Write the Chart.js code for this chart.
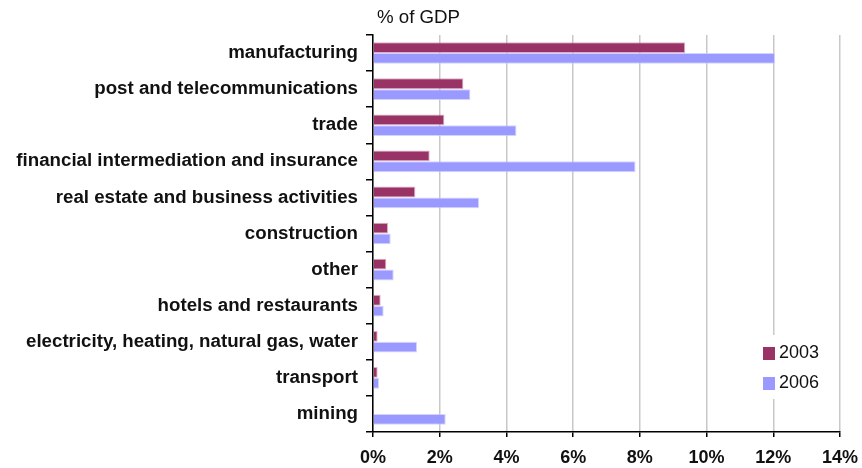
<!DOCTYPE html>
<html>
<head>
<meta charset="utf-8">
<script src="https://cdn.jsdelivr.net/npm/chart.js@4/dist/chart.umd.min.js"></script>
<style>
  html, body { margin: 0; padding: 0; background: #fff; }
  #wrap { width: 862px; height: 468px; position: relative; }
</style>
</head>
<body>
<div id="wrap"><canvas id="chart"></canvas></div>
<script>
const sectors = [
    'manufacturing',
    'post and telecommunications',
    'trade',
    'financial intermediation and insurance',
    'real estate and business activities',
    'construction',
    'other',
    'hotels and restaurants',
    'electricity, heating, natural gas, water',
    'transport',
    'mining'
];
const share2003 = [9.36, 2.71, 2.14, 1.70, 1.27, 0.45, 0.40, 0.23, 0.14, 0.14, 0];
const share2006 = [12.05, 2.92, 4.30, 7.87, 3.18, 0.53, 0.62, 0.32, 1.32, 0.18, 2.18];
const seriesNames = ['2003', '2006'];
const seriesColors = ['#993366', '#9999ff'];
const axisTitle = '% of GDP';

const FONT = '"Liberation Sans", Arial, sans-serif';

// title above the plot and the boxed legend inside it
const extras = {
    id: 'extras',
    afterDraw(chart) {
        const { ctx, chartArea } = chart;
        ctx.save();
        ctx.fillStyle = '#111';
        ctx.font = '18.7px ' + FONT;
        ctx.textBaseline = 'middle';
        ctx.textAlign = 'left';
        ctx.fillText(axisTitle, chartArea.left + 4, 18);

        const lx = chartArea.right - 77;
        const ly = chartArea.bottom - 85;
        ctx.fillStyle = '#fff';
        ctx.fillRect(lx - 6, ly - 12, 72, 64);
        seriesNames.forEach((name, i) => {
            const y = ly + i * 30;
            ctx.fillStyle = seriesColors[i];
            ctx.fillRect(lx, y, 12, 13);
            ctx.fillStyle = '#111';
            ctx.font = '18px ' + FONT;
            ctx.fillText(name, lx + 16, y + 6);
        });
        ctx.restore();
    }
};

new Chart(document.getElementById('chart'), {
    type: 'bar',
    data: {
        labels: sectors,
        datasets: [
            {
                label: seriesNames[0],
                data: share2003,
                backgroundColor: seriesColors[0],
                borderColor: 'rgba(200,120,160,0.6)',
                borderWidth: 1,
                categoryPercentage: 0.6,
                barPercentage: 1
            },
            {
                label: seriesNames[1],
                data: share2006,
                backgroundColor: seriesColors[1],
                borderColor: 'rgba(200,200,255,0.8)',
                borderWidth: 1,
                categoryPercentage: 0.6,
                barPercentage: 1
            }
        ]
    },
    options: {
        indexAxis: 'y',
        responsive: true,
        maintainAspectRatio: false,
        animation: false,
        layout: { padding: { top: 35, right: 22, bottom: 0, left: 0 } },
        plugins: {
            legend: { display: false },
            tooltip: { enabled: false }
        },
        scales: {
            x: {
                min: 0,
                max: 14,
                ticks: {
                    stepSize: 2,
                    color: '#111',
                    font: { family: FONT, size: 18, weight: 'bold' },
                    padding: 10,
                    callback: v => v + '%'
                },
                grid: {
                    color: '#c8c8c8',
                    lineWidth: 1.5,
                    tickColor: '#000',
                    tickLength: 5
                },
                border: { color: '#000', width: 1.5 },
                afterFit: s => {
                    s.height = 36;
                    s.paddingLeft = 0;
                    s.paddingRight = 0;
                }
            },
            y: {
                ticks: {
                    color: '#111',
                    font: { family: FONT, size: 18.7, weight: 'bold' },
                    padding: 8,
                    autoSkip: false
                },
                grid: {
                    drawOnChartArea: false,
                    offset: true,
                    tickColor: '#000',
                    tickLength: 7,
                    lineWidth: 1.5
                },
                border: { color: '#000', width: 1.5 },
                afterFit: s => { s.width = 373; }
            }
        }
    },
    plugins: [extras]
});
</script>
</body>
</html>
